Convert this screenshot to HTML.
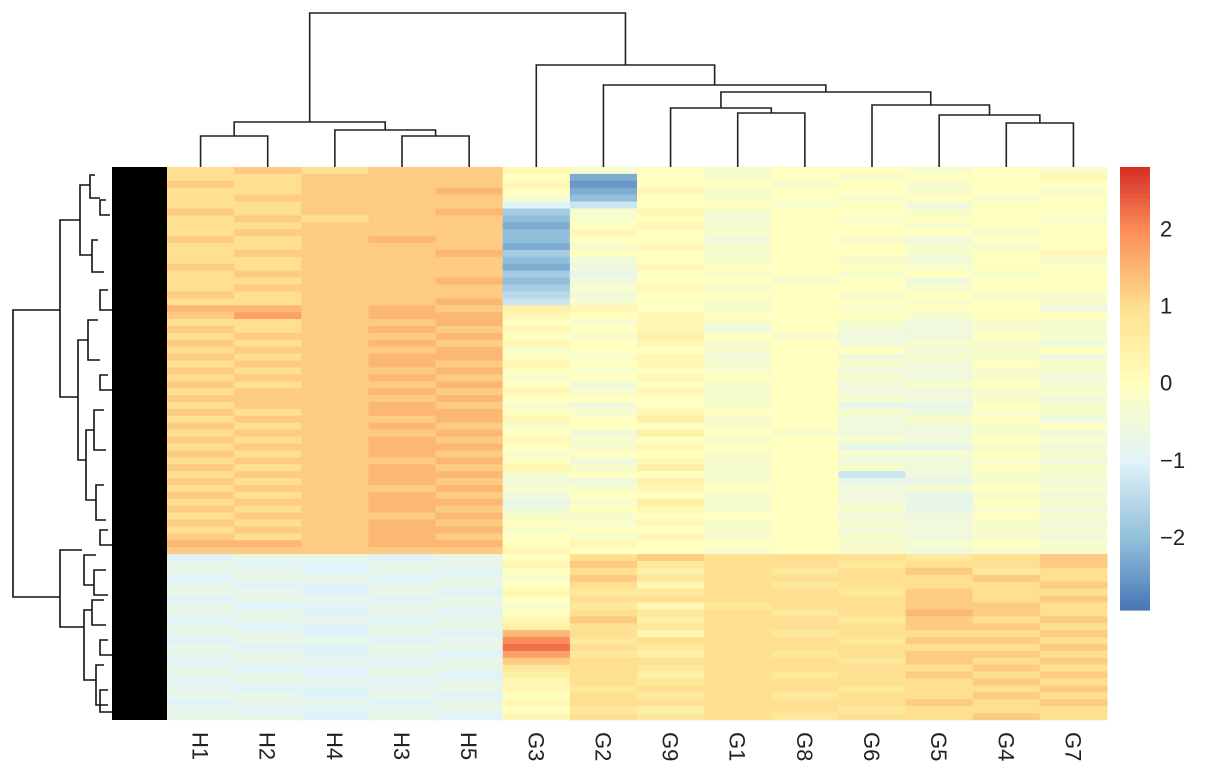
<!DOCTYPE html>
<html><head><meta charset="utf-8"><style>
html,body{margin:0;padding:0;background:#fff;}
svg{display:block;font-family:"Liberation Sans",sans-serif;}
</style></head><body>
<svg id="chart" width="1205" height="783" viewBox="0 0 1205 783">
<g id="heat"></g>
<g id="coldend" stroke="#222" stroke-width="1.6" fill="none"></g>
<g id="rowdend" stroke="#111" stroke-width="1.6" fill="none">
<rect x="112" y="167" width="55" height="553" fill="#000" stroke="none"/>
<path d="M60,310 H13 V597 H60"/>
<path d="M80,220 H60 V397 H78"/>
<path d="M82,550 H60 V627 H84"/>
<path d="M90,185 H80 V255 H92"/>
<path d="M95,175 H90 V198 H100"/><path d="M98,240 H92 V272 H104"/>
<path d="M88,340 H78 V460 H86"/>
<path d="M98,320 H88 V360 H100"/><path d="M94,430 H86 V500 H96"/>
<path d="M104,410 H94 V450 H106"/><path d="M104,485 H96 V520 H106"/>
<path d="M96,555 H84 V585 H94"/><path d="M92,610 H84 V680 H96"/>
<path d="M104,600 H92 V625 H106"/><path d="M104,665 H96 V705 H108"/>
<path d="M106,570 H94 V595 H108"/>
<path d="M106,200 H100 V215 H110"/><path d="M108,290 H100 V310 H112"/>
<path d="M108,375 H100 V390 H112"/><path d="M108,530 H100 V545 H112"/>
<path d="M108,640 H100 V655 H112"/><path d="M108,690 H100 V712 H112"/>
</g>
<g id="collabels"></g>
<g id="legend"></g>
</svg>
<script>
const columns=["H1","H2","H4","H3","H5","G3","G2","G9","G1","G8","G6","G5","G4","G7"];
// each char: value = (index in alphabet - 12) * 0.25  (a=-3, m=0, q=1, u=2)
const rowsEncoded=[
"qrqrrnlmlmmlml","qqrrrmdmlmlmmn","rqrrrncmmlmlmm","qqrrsmdnlmmlml","qrrrrlemlmlmlm",
"qqrrrihmmlmkmm","rqrrsflnlmmlmm","qrqrrelmkmlmml","qqrrrdmnlmmlmm","qrrrrenmlmmmlm",
"rqrsremmkmlkmm","qqrrrdlnlmmllm","qrrrsfmmlmmlmn","qqrrrekmlmlkml","rqrrrdknmmmlmm",
"qrrrrfjmlmlmlm","qqrrsekmmlmkmm","qrrrrflnlmmlmm","rqrrrgkmmmlmll","qqrrshlmlmmlml",
"ssrsronmlmlmmk","rtrssnmnmmmlmm","qqrrsmlnlmlkll","rqrsrnmnkmkkll","qrrrsmlomlkkml",
"rqrsrnmnlmkllk","qrrrslmmlmmklm","rqrssmlnkmkllk","qrrsrnmnlmlkml","rqrrsmlmlmkkll",
"qrrsrlmnmmlklk","rqrrsmkmlmklml","qrrsrnlnlmkkll","rrrrsmmmlmlklk","qrrsrlkmlmjjml",
"rqrssmlnmmlkll","qrrrsnmolmklmk","rqrsrlmmlmkklm","qrrrsmkomlkklk","rqrsrnlmlmlkml",
"qrrssmlnmmjjlk","rqrsrlmmlmllml","qrrrsmknlmkklk","rqrsrnlolmlkml","qrrsslmmlmhkll",
"rqrsrkkolmjjlk","qrrrsllnmmklml","rqrsrkmmlmkjlk","qrrssjlolmkjml","rqrsrkmnlmljlk",
"qrrrsllmmmkkml","rqrsrmlnlmlklk","qrrsslmmlmkkll","rqrsrmlnlmlklk","ssrssmnmmmllml",
"rrrrrnmmlmlkll",
"ijjijmqrqqqpqr","jiijjnrpqqpqqr","jjijimqoqpqrpq","ijjijlrpqqqqrq","jiijjmqnqpqqqr",
"jjijinppqqprqq","ijjijmqqqqqrqr","jiijjlpnpqqrrq","jjijimqpqpqsrq","ijjijnroqqprqr",
"jiijjoqpqqqrrq","jjijisqnqpqqqr","ijjijupqqqprrq","jiijjvqpqqqqqr","jjijitpoqpqrrq",
"ijjijrqqqqprqr","jiijjpqpqqqqrq","jjijioqoqpqrqr","ijjijnqpqqqqrq","jiijjnpqqqpqqr",
"jjijimqpqpqqrq","ijjijnqqqqqrqr","jiijjmpoqqpqqq","jjijinqpqpqqrq"];
const legendTicks=[2,1,0,-1,-2];
const legendMin=-2.95, legendMax=2.8;
const merges=[[3,4,136],[2,"m0",130],[0,1,136],["m2","m1",122],[8,9,113],[7,"m4",108],[12,13,123],[11,"m6",115],[10,"m7",105],["m5","m8",92],[6,"m9",85],[5,"m10",65],["m3","m11",13]];

const NS="http://www.w3.org/2000/svg";
const X0=167,X1=1107,Y0=167,Y1=720;
const cw=(X1-X0)/columns.length, rh=(Y1-Y0)/rowsEncoded.length;
const colX=i=>X0+cw*i;
const rowY=r=>Y0+rh*r;
const stops=[[-2.95,[69,117,180]],[-2,[145,191,219]],[-1,[224,243,248]],[0,[255,255,191]],[1,[254,224,144]],[2,[252,141,89]],[2.8,[215,48,39]]];
function color(v){
  if(v<=stops[0][0])return "rgb("+stops[0][1]+")";
  for(let i=1;i<stops.length;i++){if(v<=stops[i][0]){const a=stops[i-1],b=stops[i],t=(v-a[0])/(b[0]-a[0]);
    return "rgb("+a[1].map((c,k)=>Math.round(c+(b[1][k]-c)*t)).join(",")+")";}}
  return "rgb("+stops[stops.length-1][1]+")";
}
const heat=document.getElementById("heat");
rowsEncoded.forEach((row,r)=>{for(let c=0;c<columns.length;c++){
  const v=(row.charCodeAt(c)-109)*0.25;
  const e=document.createElementNS(NS,"rect");
  e.setAttribute("x",colX(c));e.setAttribute("y",rowY(r));
  e.setAttribute("width",cw+0.5);e.setAttribute("height",rh+0.3);
  e.setAttribute("fill",color(v));
  
  
  heat.appendChild(e);}});
const cl=document.getElementById("collabels");
columns.forEach((n,i)=>{const t=document.createElementNS(NS,"text");
  const cx=colX(i)+cw/2;
  t.setAttribute("transform","translate("+(cx-8)+",732) rotate(90)");
  t.setAttribute("font-size","22");t.setAttribute("fill","#222");t.textContent=n;
  
  
  cl.appendChild(t);});
const cd=document.getElementById("coldend");
const nodes={};
function pos(k){if(typeof k==="number")return [colX(k)+cw/2,Y0];return nodes[k];}
merges.forEach((m,i)=>{const a=pos(m[0]),b=pos(m[1]),h=m[2];
  const p=document.createElementNS(NS,"path");
  p.setAttribute("d","M"+a[0]+","+a[1]+" V"+h+" H"+b[0]+" V"+b[1]);
  
  
  cd.appendChild(p);nodes["m"+i]=[(a[0]+b[0])/2,h];});
const lg=document.getElementById("legend");
const LY0=167,LY1=610,LX=1120,LW=30;
const ly=v=>LY0+(legendMax-v)/(legendMax-legendMin)*(LY1-LY0);
for(let i=0;i<100;i++){const v0=legendMax-(legendMax-legendMin)*i/100;
  const e=document.createElementNS(NS,"rect");
  e.setAttribute("x",LX);e.setAttribute("y",ly(v0));e.setAttribute("width",LW);
  e.setAttribute("height",(LY1-LY0)/100+0.6);e.setAttribute("fill",color(v0));
  
  
  lg.appendChild(e);}
legendTicks.forEach(v=>{const t=document.createElementNS(NS,"text");
  t.setAttribute("x",1160);t.setAttribute("y",ly(v)+8);t.setAttribute("font-size","22");t.setAttribute("fill","#222");
  t.textContent=v<0?"\u2212"+(-v):String(v);
  
  
  lg.appendChild(t);});
</script>
</body></html>
